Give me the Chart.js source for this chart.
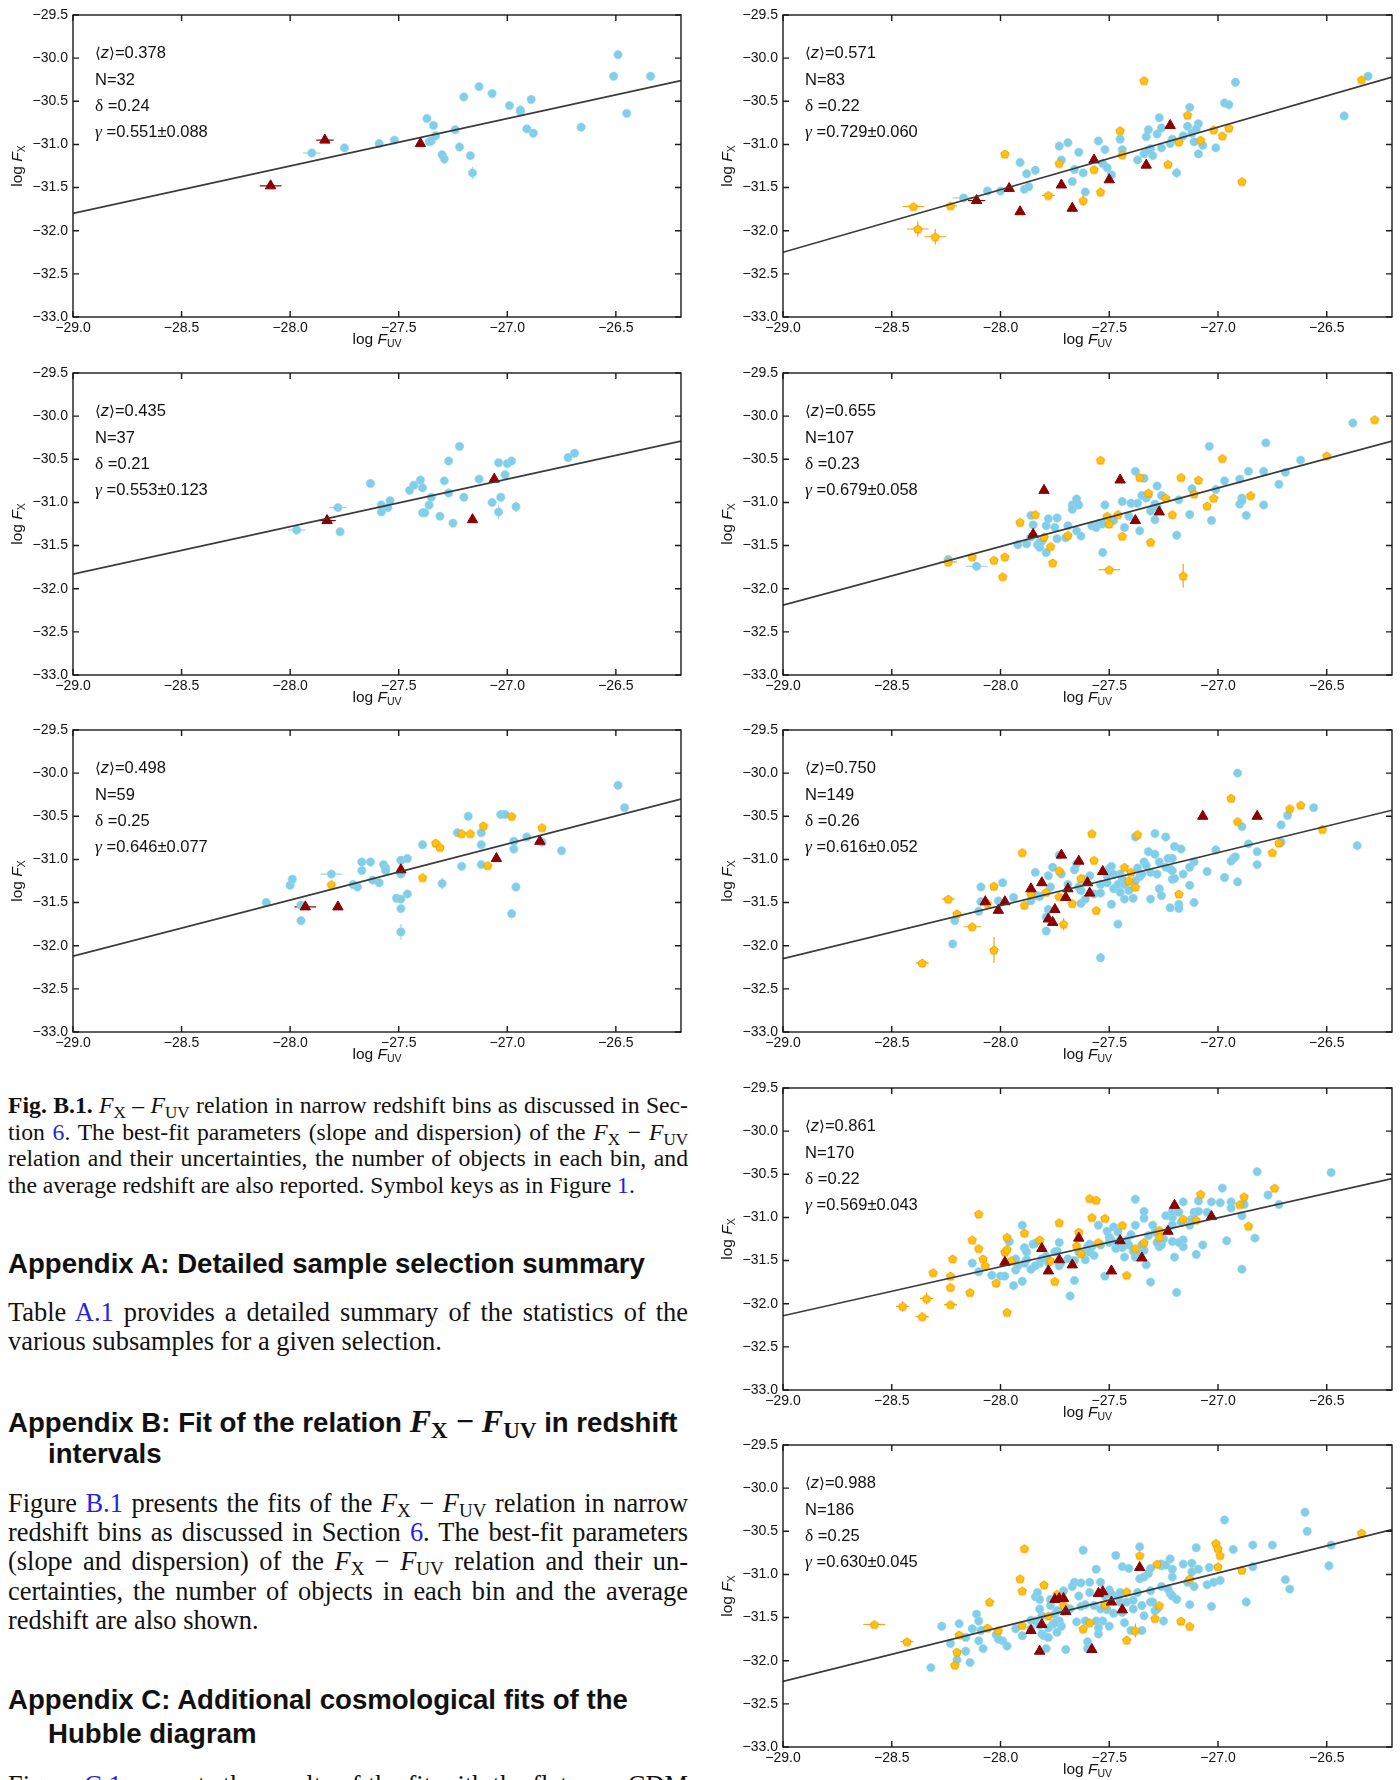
<!DOCTYPE html>
<html><head><meta charset="utf-8">
<script src="https://cdn.jsdelivr.net/npm/chart.js@4.4.1/dist/chart.umd.min.js"></script>
<style>
html,body{margin:0;padding:0;background:#fff;}
body{width:1400px;height:1780px;position:relative;overflow:hidden;}
canvas{position:absolute;}
.ann{position:absolute;font-family:"Liberation Sans",Arial,sans-serif;font-size:16.5px;line-height:26px;color:#111;white-space:nowrap;z-index:2;}
.ann .gr{font-family:"Liberation Serif","Times New Roman",serif;font-size:17.5px;}
.ann .br{font-family:"DejaVu Serif",serif;font-size:15px;}
.axt{position:absolute;font-family:"Liberation Sans",Arial,sans-serif;font-size:15.5px;line-height:18px;height:18px;width:160px;text-align:center;color:#111;white-space:nowrap;z-index:2;}
.axt sub{font-size:10.5px;vertical-align:-3px;line-height:0;}
.tx{position:absolute;left:8px;width:680px;font-family:"Liberation Serif","Times New Roman",serif;color:#111;white-space:nowrap;}
.tx sub{font-size:0.72em;vertical-align:-0.28em;line-height:0;}
.cap{font-size:23.7px;line-height:27px;height:27px;}
.bd{font-size:26.4px;line-height:30px;height:30px;}
.j{text-align:justify;text-align-last:justify;}
.hd{font-family:"Liberation Sans",Arial,sans-serif;font-weight:bold;font-size:27.6px;line-height:34px;height:34px;width:auto;}
.hd .m{font-family:"Liberation Serif","Times New Roman",serif;font-size:32px;}
.ind{left:48px;}
.lk{color:#2323e6;}
</style>
</head><body>
<div id="root"></div>
<script>
// ---------------- data ----------------
const xTicks = [-29.0, -28.5, -28.0, -27.5, -27.0, -26.5];
const yTicks = [-33.0, -32.5, -32.0, -31.5, -31.0, -30.5, -30.0, -29.5];
const xRange = [-29.0, -26.2];
const yRange = [-33.0, -29.5];

const zMean = ['0.378', '0.435', '0.498', '0.571', '0.655', '0.750', '0.861', '0.988'];
const nObj  = ['32', '37', '59', '83', '107', '149', '170', '186'];
const delta = ['0.24', '0.21', '0.25', '0.22', '0.23', '0.26', '0.22', '0.25'];
const gamma = ['0.551±0.088', '0.553±0.123', '0.646±0.077', '0.729±0.060', '0.679±0.058', '0.616±0.052', '0.569±0.043', '0.630±0.045'];
// best-fit line, log F_X at log F_UV = -29.0 and at -26.2
const fitAtLeft  = [-31.80, -31.83, -32.12, -32.25, -32.19, -32.15, -32.14, -32.24];
const fitAtRight = [-30.26, -30.29, -30.30, -30.22, -30.29, -30.43, -30.55, -30.48];

// [log F_UV, log F_X]
const bin1Blue = [[-27.90,-31.10],[-27.75,-31.04],[-27.59,-30.99],[-27.52,-30.95],[-27.37,-30.70],[-27.36,-30.97],[-27.34,-30.78],[-27.33,-30.90],[-27.30,-31.12],[-27.29,-31.17],[-27.24,-30.83],[-27.22,-31.03],[-27.20,-30.45],[-27.17,-31.13],[-27.16,-31.33],[-27.13,-30.33],[-27.07,-30.41],[-26.99,-30.55],[-26.94,-30.62],[-26.91,-30.82],[-26.89,-30.48],[-26.88,-30.87],[-26.66,-30.80],[-26.51,-30.21],[-26.49,-29.96],[-26.45,-30.64],[-26.34,-30.21],[-26.94,-30.60],[-27.35,-30.96]];
const bin1Gold = [];
const bin1Red  = [[-28.09,-31.48],[-27.84,-30.95],[-27.40,-30.99]];

const bin2Blue = [[-27.97,-31.32],[-27.78,-31.06],[-27.77,-31.34],[-27.63,-30.78],[-27.58,-31.11],[-27.58,-31.03],[-27.55,-31.06],[-27.54,-30.98],[-27.45,-30.86],[-27.43,-30.80],[-27.40,-30.74],[-27.39,-30.83],[-27.39,-31.12],[-27.38,-31.12],[-27.36,-31.03],[-27.35,-30.94],[-27.31,-31.16],[-27.29,-30.75],[-27.27,-30.89],[-27.27,-30.52],[-27.25,-31.24],[-27.22,-30.35],[-27.20,-30.94],[-27.13,-30.73],[-27.07,-31.00],[-27.04,-31.11],[-27.04,-30.54],[-27.03,-30.94],[-27.01,-30.68],[-27.00,-30.55],[-26.98,-30.52],[-26.96,-31.05],[-26.72,-30.48],[-26.69,-30.43]];
const bin2Gold = [];
const bin2Red  = [[-27.83,-31.21],[-27.16,-31.20],[-27.06,-30.73]];

const bin3Blue = [[-28.11,-31.50],[-28.00,-31.30],[-27.99,-31.23],[-27.95,-31.71],[-27.95,-31.53],[-27.81,-31.17],[-27.71,-31.29],[-27.69,-31.32],[-27.67,-31.03],[-27.67,-31.13],[-27.63,-31.03],[-27.62,-31.24],[-27.59,-31.27],[-27.57,-31.06],[-27.56,-31.10],[-27.56,-31.13],[-27.51,-31.45],[-27.49,-31.01],[-27.49,-31.17],[-27.49,-31.16],[-27.49,-31.46],[-27.49,-31.57],[-27.49,-31.84],[-27.46,-31.40],[-27.46,-30.99],[-27.39,-30.83],[-27.30,-31.28],[-27.23,-30.69],[-27.21,-31.08],[-27.18,-30.50],[-27.12,-31.06],[-27.12,-30.83],[-27.12,-30.69],[-27.03,-30.48],[-27.01,-30.48],[-26.98,-31.63],[-26.97,-30.79],[-26.97,-30.88],[-26.96,-31.32],[-26.91,-30.74],[-26.84,-30.80],[-26.75,-30.90],[-26.49,-30.14],[-26.46,-30.40]];
const bin3Gold = [[-27.81,-31.29],[-27.39,-31.21],[-27.33,-30.81],[-27.31,-30.86],[-27.21,-30.70],[-27.17,-30.70],[-27.11,-30.61],[-27.09,-31.07],[-26.98,-30.50],[-26.84,-30.63]];
const bin3Red  = [[-27.93,-31.55],[-27.78,-31.55],[-27.49,-31.12],[-27.05,-30.99],[-26.85,-30.79]];

const bin4Blue = [[-28.17,-31.62],[-28.06,-31.54],[-28.00,-31.54],[-27.91,-31.21],[-27.88,-31.34],[-27.89,-31.52],[-27.87,-31.49],[-27.84,-31.30],[-27.73,-31.02],[-27.72,-31.18],[-27.69,-30.98],[-27.64,-31.09],[-27.66,-31.29],[-27.67,-31.43],[-27.62,-31.33],[-27.61,-31.55],[-27.55,-30.96],[-27.53,-31.22],[-27.52,-31.06],[-27.51,-31.27],[-27.49,-31.35],[-27.45,-30.94],[-27.44,-31.06],[-27.37,-31.18],[-27.34,-31.11],[-27.33,-30.91],[-27.32,-30.83],[-27.31,-31.05],[-27.30,-31.13],[-27.28,-30.88],[-27.27,-30.69],[-27.26,-30.81],[-27.26,-31.04],[-27.22,-30.99],[-27.19,-31.33],[-27.16,-30.90],[-27.14,-30.79],[-27.13,-30.57],[-27.12,-30.87],[-27.11,-30.97],[-27.09,-30.76],[-27.09,-31.11],[-27.07,-31.01],[-27.01,-31.04],[-26.97,-30.52],[-26.95,-30.54],[-26.92,-30.28],[-26.42,-30.67],[-26.31,-30.21],[-27.32,-31.07],[-27.10,-30.82],[-27.21,-30.94]];
const bin4Gold = [[-28.40,-31.72],[-28.38,-31.98],[-28.30,-32.07],[-28.23,-31.71],[-27.98,-31.11],[-27.78,-31.59],[-27.73,-31.22],[-27.62,-31.65],[-27.57,-31.29],[-27.54,-31.55],[-27.45,-30.84],[-27.44,-31.12],[-27.34,-30.26],[-27.23,-31.23],[-27.18,-30.97],[-27.14,-30.66],[-27.08,-30.95],[-27.02,-30.83],[-26.98,-30.90],[-26.95,-30.81],[-26.89,-31.43],[-26.34,-30.25]];
const bin4Red  = [[-28.11,-31.65],[-27.96,-31.51],[-27.91,-31.78],[-27.72,-31.47],[-27.67,-31.74],[-27.57,-31.18],[-27.50,-31.41],[-27.33,-31.24],[-27.22,-30.78]];

const bin5Blue = [[-28.24,-31.66],[-28.11,-31.74],[-27.92,-31.49],[-27.88,-31.48],[-27.86,-31.15],[-27.85,-31.26],[-27.83,-31.49],[-27.82,-31.52],[-27.82,-31.46],[-27.81,-31.45],[-27.79,-31.58],[-27.79,-31.27],[-27.78,-31.19],[-27.74,-31.42],[-27.74,-31.18],[-27.70,-31.41],[-27.69,-31.27],[-27.67,-31.03],[-27.67,-31.08],[-27.65,-30.96],[-27.65,-31.33],[-27.64,-31.03],[-27.63,-31.39],[-27.58,-31.27],[-27.56,-31.29],[-27.55,-31.25],[-27.53,-31.58],[-27.53,-31.25],[-27.52,-31.03],[-27.44,-30.99],[-27.43,-31.29],[-27.41,-31.16],[-27.40,-31.01],[-27.38,-30.64],[-27.37,-31.01],[-27.36,-31.33],[-27.35,-30.92],[-27.34,-30.72],[-27.33,-30.95],[-27.32,-30.91],[-27.31,-31.10],[-27.29,-31.02],[-27.29,-31.20],[-27.28,-30.81],[-27.26,-30.92],[-27.19,-31.38],[-27.18,-30.97],[-27.13,-31.14],[-27.12,-30.84],[-27.03,-31.21],[-27.01,-30.85],[-26.97,-30.75],[-26.90,-31.02],[-26.90,-30.73],[-26.89,-30.95],[-26.87,-31.15],[-26.86,-30.64],[-26.79,-31.03],[-26.79,-30.64],[-26.78,-30.31],[-26.72,-30.79],[-26.69,-30.65],[-26.62,-30.51],[-27.04,-30.35],[-26.38,-30.08],[-27.86,-31.40],[-27.75,-31.29],[-27.48,-31.21],[-27.28,-31.05],[-26.89,-30.98]];
const bin5Gold = [[-28.24,-31.69],[-28.13,-31.63],[-28.03,-31.67],[-27.99,-31.86],[-27.98,-31.63],[-27.91,-31.23],[-27.84,-31.14],[-27.80,-31.40],[-27.77,-31.51],[-27.76,-31.70],[-27.69,-31.38],[-27.54,-30.51],[-27.51,-31.16],[-27.50,-31.25],[-27.50,-31.78],[-27.46,-31.14],[-27.44,-31.39],[-27.36,-30.71],[-27.32,-30.89],[-27.31,-31.46],[-27.24,-30.95],[-27.21,-31.14],[-27.17,-30.71],[-27.16,-31.85],[-27.11,-30.90],[-27.09,-30.74],[-27.05,-31.04],[-27.02,-30.95],[-26.98,-30.49],[-26.85,-30.92],[-26.50,-30.46],[-26.28,-30.04]];
const bin5Red  = [[-27.85,-31.37],[-27.80,-30.86],[-27.45,-30.74],[-27.38,-31.21],[-27.27,-31.11]];

const bin6Blue = [[-28.21,-31.71],[-28.22,-31.98],[-28.10,-31.60],[-28.09,-31.32],[-28.09,-31.49],[-28.01,-31.48],[-27.99,-31.27],[-27.94,-31.44],[-27.84,-31.15],[-27.83,-31.42],[-27.82,-31.43],[-27.78,-31.19],[-27.78,-31.58],[-27.79,-31.67],[-27.79,-31.83],[-27.77,-31.32],[-27.76,-31.09],[-27.73,-30.95],[-27.66,-31.12],[-27.65,-31.05],[-27.63,-31.36],[-27.63,-31.51],[-27.62,-31.23],[-27.61,-31.46],[-27.59,-31.19],[-27.57,-31.40],[-27.54,-31.39],[-27.54,-32.14],[-27.51,-31.19],[-27.51,-31.27],[-27.50,-31.11],[-27.49,-31.08],[-27.49,-31.52],[-27.48,-31.34],[-27.46,-31.75],[-27.45,-31.38],[-27.45,-31.17],[-27.44,-31.23],[-27.43,-31.46],[-27.41,-31.36],[-27.39,-31.45],[-27.38,-31.25],[-27.38,-30.74],[-27.37,-31.10],[-27.36,-31.20],[-27.34,-31.03],[-27.33,-31.07],[-27.32,-30.91],[-27.31,-31.15],[-27.31,-31.46],[-27.29,-30.70],[-27.29,-30.94],[-27.27,-31.03],[-27.27,-31.34],[-27.26,-31.42],[-27.24,-30.74],[-27.23,-30.99],[-27.22,-31.11],[-27.22,-31.56],[-27.21,-30.99],[-27.21,-31.23],[-27.20,-31.22],[-27.20,-30.85],[-27.18,-31.52],[-27.18,-31.57],[-27.17,-30.88],[-27.13,-31.09],[-27.13,-31.30],[-27.11,-31.50],[-27.11,-31.03],[-27.05,-31.14],[-27.01,-30.89],[-26.97,-31.21],[-26.93,-30.99],[-26.92,-30.97],[-26.91,-30.00],[-26.91,-31.26],[-26.89,-30.62],[-26.86,-30.82],[-26.82,-30.91],[-26.82,-31.06],[-26.71,-30.80],[-26.71,-30.60],[-26.68,-30.49],[-26.56,-30.40],[-26.36,-30.84],[-27.72,-31.17],[-27.69,-31.29],[-27.64,-31.32],[-27.54,-31.29],[-27.48,-31.17],[-27.46,-31.29],[-27.43,-31.29],[-27.35,-31.17],[-27.28,-31.17],[-27.24,-31.09],[-27.21,-31.13],[-27.16,-31.17],[-26.94,-31.02],[-27.86,-31.48]];
const bin6Gold = [[-28.36,-32.20],[-28.24,-31.46],[-28.20,-31.63],[-28.13,-31.78],[-28.06,-31.51],[-28.03,-31.31],[-28.03,-32.05],[-27.90,-30.92],[-27.89,-31.53],[-27.86,-31.40],[-27.79,-31.38],[-27.73,-31.43],[-27.73,-31.13],[-27.71,-31.75],[-27.67,-31.51],[-27.63,-31.22],[-27.58,-30.70],[-27.57,-31.01],[-27.56,-31.59],[-27.43,-31.09],[-27.41,-31.25],[-27.37,-30.71],[-27.38,-31.32],[-27.18,-31.40],[-26.94,-30.29],[-26.91,-30.56],[-26.75,-30.92],[-26.72,-30.81],[-26.67,-30.41],[-26.62,-30.37],[-26.52,-30.65],[-27.40,-31.15]];
const bin6Red  = [[-28.07,-31.49],[-28.01,-31.59],[-27.98,-31.49],[-27.86,-31.34],[-27.81,-31.27],[-27.78,-31.69],[-27.76,-31.73],[-27.75,-31.58],[-27.72,-30.95],[-27.70,-31.44],[-27.69,-31.34],[-27.64,-31.02],[-27.60,-31.27],[-27.59,-31.39],[-27.53,-31.14],[-27.07,-30.50],[-26.82,-30.50]];

const bin7Blue = [[-28.13,-31.53],[-28.10,-31.63],[-28.04,-31.67],[-28.00,-31.68],[-27.98,-31.68],[-27.96,-31.28],[-27.94,-31.79],[-27.93,-31.61],[-27.92,-31.56],[-27.90,-31.74],[-27.90,-31.09],[-27.89,-31.53],[-27.89,-31.35],[-27.88,-31.49],[-27.86,-31.60],[-27.85,-31.31],[-27.84,-31.30],[-27.82,-31.53],[-27.79,-31.45],[-27.78,-31.52],[-27.74,-31.39],[-27.73,-31.29],[-27.73,-31.56],[-27.69,-31.48],[-27.68,-31.91],[-27.66,-31.50],[-27.66,-31.73],[-27.61,-31.49],[-27.61,-31.40],[-27.60,-31.34],[-27.59,-31.31],[-27.58,-31.34],[-27.57,-31.44],[-27.55,-31.09],[-27.52,-31.68],[-27.51,-31.16],[-27.50,-31.23],[-27.49,-31.27],[-27.48,-31.11],[-27.47,-31.36],[-27.46,-31.17],[-27.45,-31.27],[-27.44,-31.35],[-27.43,-31.46],[-27.42,-31.27],[-27.40,-31.20],[-27.39,-31.39],[-27.38,-31.46],[-27.38,-30.79],[-27.38,-31.09],[-27.36,-31.42],[-27.35,-31.32],[-27.34,-31.01],[-27.34,-30.93],[-27.34,-31.38],[-27.33,-31.55],[-27.31,-31.75],[-27.30,-31.09],[-27.29,-31.17],[-27.27,-31.34],[-27.27,-31.32],[-27.26,-31.32],[-27.24,-30.98],[-27.21,-31.00],[-27.21,-31.28],[-27.21,-30.93],[-27.20,-31.46],[-27.19,-31.87],[-27.18,-30.94],[-27.17,-31.06],[-27.16,-30.82],[-27.16,-31.26],[-27.16,-31.34],[-27.13,-31.09],[-27.11,-30.94],[-27.10,-31.43],[-27.09,-30.81],[-27.09,-30.93],[-27.07,-31.32],[-27.03,-30.82],[-26.99,-30.83],[-26.98,-30.66],[-26.96,-31.27],[-26.94,-30.82],[-26.94,-30.89],[-26.89,-31.60],[-26.89,-30.98],[-26.88,-30.85],[-26.83,-31.24],[-26.82,-30.47],[-26.77,-30.74],[-26.72,-30.85],[-26.48,-30.48],[-27.93,-31.48],[-27.88,-31.40],[-27.84,-31.56],[-27.81,-31.48],[-27.75,-31.40],[-27.72,-31.52],[-27.64,-31.40],[-27.59,-31.40],[-27.54,-31.32],[-27.50,-31.29],[-27.45,-31.32],[-27.41,-31.32],[-27.32,-31.21],[-27.28,-31.29],[-27.25,-31.25],[-27.21,-31.09],[-27.18,-31.29],[-27.12,-31.02],[-27.05,-30.94]];
const bin7Gold = [[-28.45,-32.03],[-28.36,-32.15],[-28.34,-31.94],[-28.31,-31.64],[-28.23,-31.68],[-28.23,-31.81],[-28.23,-32.01],[-28.22,-31.48],[-28.14,-31.87],[-28.13,-31.26],[-28.10,-31.36],[-28.08,-31.48],[-28.07,-31.56],[-28.10,-30.96],[-28.02,-31.76],[-27.98,-31.40],[-27.97,-31.23],[-27.97,-31.37],[-27.97,-32.10],[-27.95,-31.50],[-27.89,-31.18],[-27.82,-31.26],[-27.77,-31.50],[-27.75,-31.74],[-27.73,-31.06],[-27.65,-31.33],[-27.64,-31.17],[-27.63,-31.42],[-27.59,-30.78],[-27.58,-31.00],[-27.56,-30.80],[-27.55,-31.29],[-27.52,-31.01],[-27.44,-31.09],[-27.42,-31.67],[-27.38,-31.36],[-27.34,-31.29],[-27.27,-31.15],[-27.27,-31.23],[-27.16,-31.02],[-27.10,-31.03],[-27.08,-30.73],[-26.90,-30.85],[-26.88,-30.76],[-26.86,-31.10],[-26.74,-30.66]];
const bin7Red  = [[-27.98,-31.52],[-27.81,-31.36],[-27.78,-31.62],[-27.73,-31.49],[-27.67,-31.55],[-27.64,-31.24],[-27.49,-31.62],[-27.45,-31.27],[-27.35,-31.47],[-27.23,-31.16],[-27.20,-30.86],[-27.03,-30.99]];

const bin8Blue = [[-28.32,-32.08],[-28.27,-31.60],[-28.23,-31.80],[-28.20,-31.99],[-28.19,-31.57],[-28.16,-31.89],[-28.16,-31.73],[-28.14,-32.02],[-28.13,-31.63],[-28.11,-31.46],[-28.10,-31.54],[-28.10,-31.77],[-28.09,-31.65],[-28.08,-31.86],[-28.02,-31.70],[-27.99,-31.77],[-27.97,-31.83],[-27.93,-31.63],[-27.90,-31.71],[-27.86,-31.53],[-27.84,-31.26],[-27.84,-31.54],[-27.83,-31.21],[-27.82,-31.59],[-27.82,-31.29],[-27.81,-31.69],[-27.81,-31.48],[-27.80,-31.71],[-27.79,-31.86],[-27.78,-31.73],[-27.78,-31.62],[-27.77,-31.36],[-27.76,-31.58],[-27.75,-31.46],[-27.74,-31.67],[-27.74,-31.42],[-27.73,-31.54],[-27.73,-31.26],[-27.72,-31.60],[-27.71,-31.43],[-27.71,-31.19],[-27.70,-31.87],[-27.67,-31.14],[-27.66,-31.09],[-27.65,-31.55],[-27.63,-31.37],[-27.63,-31.10],[-27.62,-30.72],[-27.61,-31.35],[-27.61,-31.54],[-27.60,-31.78],[-27.60,-31.86],[-27.59,-31.21],[-27.59,-31.09],[-27.56,-30.94],[-27.56,-31.54],[-27.55,-31.69],[-27.55,-31.62],[-27.54,-31.09],[-27.53,-31.54],[-27.51,-31.41],[-27.50,-31.60],[-27.50,-31.18],[-27.49,-31.23],[-27.48,-31.45],[-27.47,-30.78],[-27.45,-31.32],[-27.44,-30.91],[-27.44,-31.44],[-27.43,-31.56],[-27.42,-31.32],[-27.41,-30.93],[-27.40,-31.65],[-27.39,-31.30],[-27.37,-31.21],[-27.36,-30.68],[-27.36,-31.05],[-27.35,-31.65],[-27.35,-31.36],[-27.34,-31.03],[-27.32,-30.99],[-27.31,-31.32],[-27.31,-30.93],[-27.31,-31.19],[-27.30,-31.32],[-27.29,-31.42],[-27.26,-30.90],[-27.26,-31.14],[-27.26,-30.88],[-27.25,-31.54],[-27.24,-30.89],[-27.22,-31.22],[-27.22,-30.82],[-27.21,-31.25],[-27.21,-30.94],[-27.21,-31.03],[-27.16,-30.88],[-27.13,-31.35],[-27.12,-30.97],[-27.12,-30.87],[-27.11,-31.14],[-27.10,-30.69],[-27.09,-30.94],[-27.05,-31.12],[-27.04,-30.92],[-27.03,-31.37],[-27.02,-31.09],[-26.99,-31.07],[-26.97,-30.37],[-26.93,-30.71],[-26.87,-31.32],[-26.84,-30.91],[-26.84,-30.66],[-26.75,-30.66],[-26.69,-31.06],[-26.67,-31.17],[-26.60,-30.28],[-26.59,-30.50],[-26.49,-30.90],[-26.48,-30.66],[-27.86,-31.63],[-27.82,-31.40],[-27.77,-31.29],[-27.75,-31.56],[-27.68,-31.40],[-27.64,-31.25],[-27.57,-31.36],[-27.54,-31.40],[-27.52,-31.25],[-27.46,-31.25],[-27.45,-31.21],[-27.39,-31.40],[-27.34,-31.48],[-27.28,-31.40],[-27.23,-31.17],[-27.19,-31.29],[-27.14,-31.09],[-28.01,-31.75]];
const bin8Gold = [[-28.58,-31.58],[-28.43,-31.78],[-28.21,-32.05],[-28.20,-31.90],[-28.19,-31.70],[-28.06,-31.62],[-28.05,-31.32],[-28.01,-31.65],[-27.91,-31.05],[-27.90,-31.19],[-27.90,-31.59],[-27.89,-30.70],[-27.80,-31.12],[-27.78,-31.48],[-27.74,-31.23],[-27.71,-31.36],[-27.62,-31.63],[-27.59,-31.56],[-27.52,-31.35],[-27.42,-31.20],[-27.42,-31.76],[-27.38,-31.65],[-27.36,-30.78],[-27.29,-31.51],[-27.28,-30.88],[-27.27,-31.36],[-27.17,-31.54],[-27.13,-31.60],[-27.13,-31.05],[-27.01,-30.64],[-27.00,-30.70],[-26.99,-30.78],[-27.00,-30.91],[-26.89,-30.95],[-26.34,-30.52]];
const bin8Red  = [[-27.86,-31.65],[-27.82,-31.89],[-27.81,-31.58],[-27.75,-31.29],[-27.73,-31.28],[-27.71,-31.28],[-27.70,-31.43],[-27.58,-31.87],[-27.55,-31.22],[-27.53,-31.20],[-27.49,-31.32],[-27.44,-31.41],[-27.36,-30.92]];

// error bars: [log F_UV, log F_X, x error, y error, series]
const bin1Err = [[-28.09,-31.48,0.05,0,'r'],[-27.84,-30.95,0.04,0,'r'],[-27.16,-31.33,0,0.07,'b'],[-27.90,-31.10,0.04,0,'b'],[-26.94,-30.62,0,0.05,'b'],[-27.29,-31.17,0,0.05,'b']];
const bin2Err = [[-27.97,-31.32,0.04,0,'b'],[-27.78,-31.06,0.04,0,'b'],[-27.04,-31.11,0,0.08,'b'],[-26.96,-31.05,0,0.06,'b'],[-27.83,-31.21,0.04,0,'r']];
const bin3Err = [[-27.49,-31.84,0,0.09,'b'],[-27.93,-31.55,0.05,0,'r'],[-27.81,-31.17,0.05,0,'b'],[-27.30,-31.28,0,0.07,'b'],[-26.98,-31.63,0,0.05,'b']];
const bin4Err = [[-28.40,-31.72,0.05,0,'g'],[-28.38,-31.98,0.05,0.09,'g'],[-28.30,-32.07,0.05,0.09,'g'],[-28.23,-31.71,0.03,0,'g'],[-28.11,-31.65,0.04,0,'r'],[-28.17,-31.62,0.05,0,'b'],[-27.19,-31.33,0,0.06,'b'],[-27.62,-31.65,0,0.06,'g'],[-27.54,-31.55,0,0.05,'g'],[-27.78,-31.59,0.03,0,'g']];
const bin5Err = [[-27.16,-31.85,0,0.14,'g'],[-27.50,-31.78,0.05,0,'g'],[-28.11,-31.74,0.05,0,'b'],[-28.24,-31.69,0.04,0,'g'],[-28.03,-31.67,0,0.04,'g'],[-27.99,-31.86,0,0.03,'g'],[-26.85,-30.92,0,0.05,'g'],[-27.31,-31.46,0,0.04,'g']];
const bin6Err = [[-28.03,-32.05,0,0.15,'g'],[-28.13,-31.78,0.04,0.04,'g'],[-27.71,-31.75,0,0.07,'g'],[-27.54,-32.14,0,0.05,'b'],[-28.24,-31.46,0.03,0,'g'],[-28.36,-32.20,0.03,0,'g']];
const bin7Err = [[-28.45,-32.03,0.03,0.06,'g'],[-28.36,-32.15,0.03,0.05,'g'],[-28.34,-31.94,0.03,0.07,'g'],[-28.23,-31.68,0,0.05,'g'],[-28.23,-32.01,0.03,0,'g'],[-28.14,-31.87,0,0.04,'g'],[-28.02,-31.76,0,0.04,'g']];
const bin8Err = [[-28.58,-31.58,0.05,0,'g'],[-28.43,-31.78,0.03,0,'g'],[-28.21,-32.05,0,0.05,'g'],[-27.38,-31.65,0,0.08,'g'],[-27.42,-31.76,0,0.05,'g'],[-28.20,-31.90,0,0.04,'g']];

// ---------------- layout ----------------
const blueSets = [bin1Blue, bin2Blue, bin3Blue, bin4Blue, bin5Blue, bin6Blue, bin7Blue, bin8Blue];
const goldSets = [bin1Gold, bin2Gold, bin3Gold, bin4Gold, bin5Gold, bin6Gold, bin7Gold, bin8Gold];
const redSets  = [bin1Red, bin2Red, bin3Red, bin4Red, bin5Red, bin6Red, bin7Red, bin8Red];
const errSets  = [bin1Err, bin2Err, bin3Err, bin4Err, bin5Err, bin6Err, bin7Err, bin8Err];

const COLS = [{canvasLeft:0, plotLeft:73, plotRight:681}, {canvasLeft:700, plotLeft:783, plotRight:1392}];
const PANELS = [{c:0,top:15},{c:0,top:372.5},{c:0,top:730},{c:1,top:15},{c:1,top:372.5},{c:1,top:730},{c:1,top:1087.5},{c:1,top:1445}];
const PLOT_H = 302, CANVAS_W = 700, PAD_TOP = 15, XAXIS_H = 40;

const BLUE = 'rgb(130,206,233)', GOLD = '#ffc20e', GOLD_EDGE = '#f0a000', RED = '#8b0000';
const errColor = {b:'rgb(150,214,238)', g:'#f3a712', r:RED};
const FONT = '"Liberation Sans", Arial, sans-serif';

function pentagon(){
  const c = document.createElement('canvas'); c.width = 12; c.height = 12;
  const g = c.getContext('2d'); g.beginPath();
  for (let k = 0; k < 5; k++){
    const a = -Math.PI/2 + k*2*Math.PI/5;
    const px = 6 + 4.4*Math.cos(a), py = 6.4 + 4.4*Math.sin(a);
    if (k) g.lineTo(px, py); else g.moveTo(px, py);
  }
  g.closePath(); g.fillStyle = GOLD; g.fill();
  g.strokeStyle = GOLD_EDGE; g.lineWidth = 1; g.stroke();
  return c;
}
const pentImg = pentagon();
const fmt = v => v.toFixed(1).replace('-', '\u2212');
const pts = arr => arr.map(p => ({x:p[0], y:p[1]}));

function framePlugin(errs){
  return {
    id:'frameTicks',
    beforeDatasetsDraw(chart){
      const {ctx, scales:{x, y}} = chart;
      ctx.save(); ctx.lineWidth = 1.2;
      errs.forEach(([vx, vy, ex, ey, s]) => {
        ctx.strokeStyle = errColor[s];
        const px = x.getPixelForValue(vx), py = y.getPixelForValue(vy);
        ctx.beginPath();
        if (ex){ ctx.moveTo(x.getPixelForValue(vx-ex), py); ctx.lineTo(x.getPixelForValue(vx+ex), py); }
        if (ey){ ctx.moveTo(px, y.getPixelForValue(vy-ey)); ctx.lineTo(px, y.getPixelForValue(vy+ey)); }
        ctx.stroke();
      });
      ctx.restore();
    },
    afterDraw(chart){
      const {ctx, chartArea:a, scales:{x, y}} = chart;
      ctx.save(); ctx.strokeStyle = '#1a1a1a'; ctx.lineWidth = 1.4;
      ctx.strokeRect(a.left, a.top, a.right - a.left, a.bottom - a.top);
      const L = 6; ctx.beginPath();
      x.ticks.forEach(t => { const p = x.getPixelForValue(t.value);
        ctx.moveTo(p, a.bottom); ctx.lineTo(p, a.bottom - L); ctx.moveTo(p, a.top); ctx.lineTo(p, a.top + L); });
      y.ticks.forEach(t => { const p = y.getPixelForValue(t.value);
        ctx.moveTo(a.left, p); ctx.lineTo(a.left + L, p); ctx.moveTo(a.right, p); ctx.lineTo(a.right - L, p); });
      ctx.stroke(); ctx.restore();
    }
  };
}

const root = document.getElementById('root');
PANELS.forEach((P, i) => {
  const col = COLS[P.c];
  const cv = document.createElement('canvas');
  cv.width = CANVAS_W; cv.height = PLOT_H + PAD_TOP + XAXIS_H;
  cv.style.left = col.canvasLeft + 'px'; cv.style.top = (P.top - PAD_TOP) + 'px';
  root.appendChild(cv);
  const yW = col.plotLeft - col.canvasLeft, rPad = col.canvasLeft + CANVAS_W - col.plotRight;
  const tickFont = {family: FONT, size: 14};
  new Chart(cv, {
    type: 'scatter',
    data: {datasets: [
      {type:'line', data:[{x:xRange[0], y:fitAtLeft[i]}, {x:xRange[1], y:fitAtRight[i]}], borderColor:'#3a3a3a', borderWidth:1.7, pointRadius:0, fill:false, order:0},
      {data: pts(redSets[i]), pointStyle:'triangle', pointRadius:6, backgroundColor:RED, borderColor:RED, borderWidth:1, order:1},
      {data: pts(goldSets[i]), pointStyle: pentImg, order:2},
      {data: pts(blueSets[i]), pointStyle:'circle', pointRadius:4.2, backgroundColor:BLUE, borderColor:'rgb(150,214,238)', borderWidth:0.6, order:3}
    ]},
    options: {
      responsive:false, animation:false, events:[], devicePixelRatio:1,
      layout:{padding:{left:0, right:rPad, top:PAD_TOP, bottom:0}},
      plugins:{legend:{display:false}, tooltip:{enabled:false}},
      scales:{
        x:{type:'linear', min:xRange[0], max:xRange[1],
           afterBuildTicks: s => { s.ticks = xTicks.map(v => ({value:v})); },
           afterFit: s => { s.height = XAXIS_H; },
           grid:{display:false, drawTicks:false}, border:{display:false},
           ticks:{padding:3, color:'#111', font:tickFont, autoSkip:false, maxRotation:0, callback: v => fmt(v)}},
        y:{type:'linear', min:yRange[0], max:yRange[1],
           afterBuildTicks: s => { s.ticks = yTicks.map(v => ({value:v})); },
           afterFit: s => { s.width = yW; },
           grid:{display:false, drawTicks:false}, border:{display:false},
           ticks:{padding:5, color:'#111', font:tickFont, autoSkip:false, callback: v => fmt(v)}}
      }
    },
    plugins:[framePlugin(errSets[i])]
  });

  // annotations
  const ann = document.createElement('div');
  ann.className = 'ann';
  ann.style.left = (col.plotLeft + 22) + 'px';
  ann.style.top = (P.top + 24) + 'px';
  ann.innerHTML = '<span class="br">\u27E8</span><i>z</i><span class="br">\u27E9</span>=' + zMean[i] +
    '<br>N=' + nObj[i] + '<br><span class="gr">\u03B4</span> =' + delta[i] +
    '<br><span class="gr"><i>\u03B3</i></span> =' + gamma[i];
  root.appendChild(ann);

  const yt = document.createElement('div');
  yt.className = 'axt';
  const cx = col.plotLeft - 56, cy = P.top + PLOT_H/2;
  yt.style.left = (cx - 80) + 'px'; yt.style.top = (cy - 9) + 'px';
  yt.style.transform = 'rotate(-90deg)';
  yt.innerHTML = 'log <i>F</i><sub>X</sub>';
  root.appendChild(yt);

  const xt = document.createElement('div');
  xt.className = 'axt';
  xt.style.left = ((col.plotLeft + col.plotRight)/2 - 80) + 'px';
  xt.style.top = (P.top + PLOT_H + 13) + 'px';
  xt.innerHTML = 'log <i>F</i><sub>UV</sub>';
  root.appendChild(xt);
});
</script>

<div class="tx cap j" style="top:1092px"><b>Fig. B.1.</b> <i>F</i><sub>X</sub> – <i>F</i><sub>UV</sub> relation in narrow redshift bins as discussed in Sec-</div>
<div class="tx cap j" style="top:1119px">tion <span class="lk">6</span>. The best-fit parameters (slope and dispersion) of the <i>F</i><sub>X</sub> − <i>F</i><sub>UV</sub></div>
<div class="tx cap j" style="top:1145px">relation and their uncertainties, the number of objects in each bin, and</div>
<div class="tx cap" style="top:1172px">the average redshift are also reported. Symbol keys as in Figure <span class="lk">1</span>.</div>

<div class="tx hd" style="top:1247px">Appendix A: Detailed sample selection summary</div>
<div class="tx bd j" style="top:1297px">Table <span class="lk">A.1</span> provides a detailed summary of the statistics of the</div>
<div class="tx bd" style="top:1326px">various subsamples for a given selection.</div>

<div class="tx hd" style="top:1404px">Appendix B: Fit of the relation <span class="m"><i>F</i><sub>X</sub> − <i>F</i><sub>UV</sub></span> in redshift</div>
<div class="tx hd ind" style="top:1437px">intervals</div>
<div class="tx bd j" style="top:1488px">Figure <span class="lk">B.1</span> presents the fits of the <i>F</i><sub>X</sub> − <i>F</i><sub>UV</sub> relation in narrow</div>
<div class="tx bd j" style="top:1517px">redshift bins as discussed in Section <span class="lk">6</span>. The best-fit parameters</div>
<div class="tx bd j" style="top:1546px">(slope and dispersion) of the <i>F</i><sub>X</sub> − <i>F</i><sub>UV</sub> relation and their un-</div>
<div class="tx bd j" style="top:1576px">certainties, the number of objects in each bin and the average</div>
<div class="tx bd" style="top:1605px">redshift are also shown.</div>

<div class="tx hd" style="top:1683px">Appendix C: Additional cosmological fits of the</div>
<div class="tx hd ind" style="top:1717px">Hubble diagram</div>
<div class="tx bd j" style="top:1770px">Figure <span class="lk">C.1</span> presents the results of the fit with the flat <i>w</i><sub>0</sub><i>w</i><sub>a</sub>CDM</div>
</body></html>
